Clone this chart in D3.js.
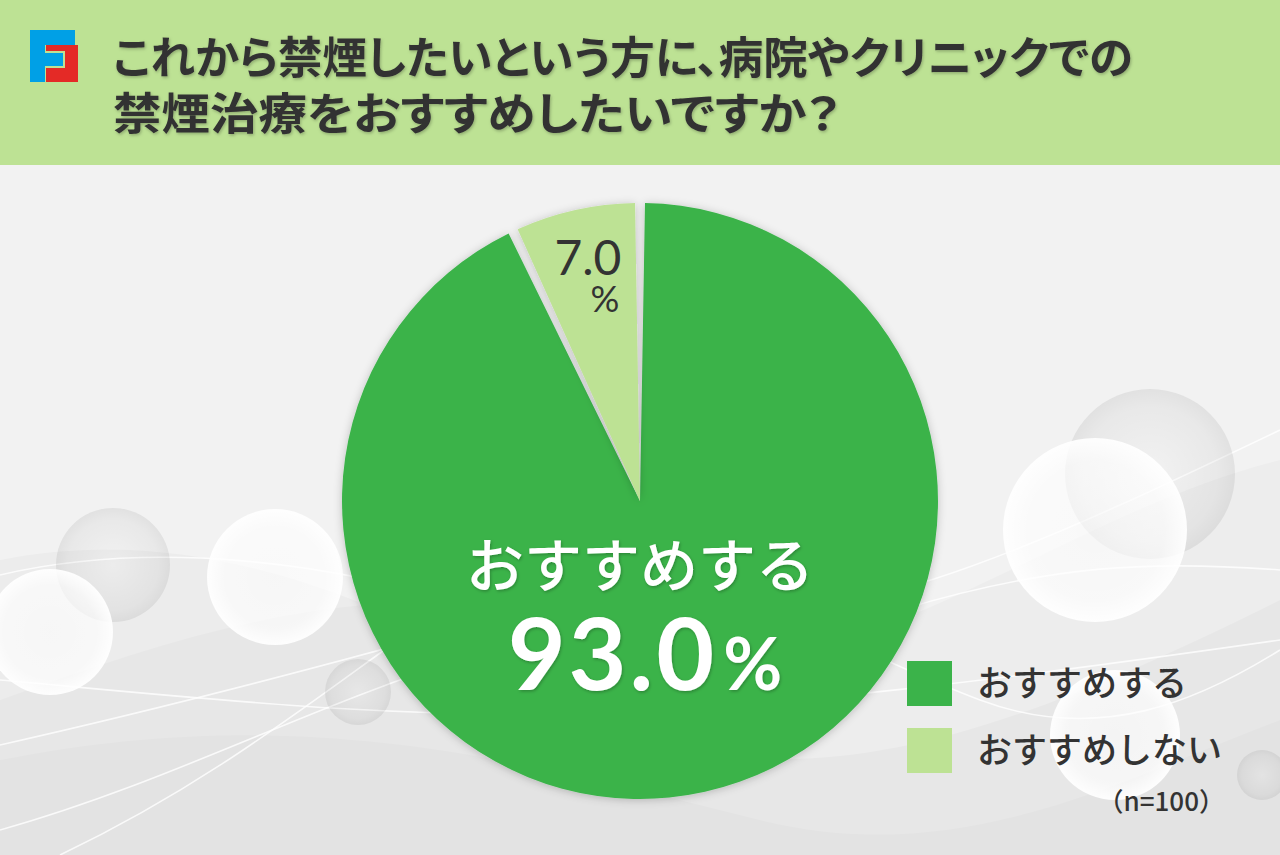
<!DOCTYPE html>
<html><head><meta charset="utf-8">
<script src="https://cdn.jsdelivr.net/npm/d3@7"></script>
<style>
html,body{margin:0;padding:0;background:#f2f2f2;}
svg{display:block;}
.jp{font-family:"Noto Sans CJK JP","Noto Sans",sans-serif;}
.palt{font-feature-settings:"palt";}
</style></head>
<body>
<svg id="chart" width="1280" height="855"></svg>
<script>
// ---- data ----
const titleLines = ["これから禁煙したいという方に、病院やクリニックでの", "禁煙治療をおすすめしたいですか？"];
const categories = ["おすすめする", "おすすめしない"];
const values = [93.0, 7.0];
const colors = ["#3bb34a", "#bde294"];
const sampleNote = "（n=100）";

const W = 1280, H = 855;
const svg = d3.select("#chart");
const defs = svg.append("defs");

// background
svg.append("rect").attr("width", W).attr("height", H).attr("fill", "#f2f2f2");

// decorative swooshes
const bg = svg.append("g");
const swooshes = [
  {d: "M0,560 C200,520 380,600 560,700 C760,810 960,760 1280,600 L1280,855 L0,855 Z", o: 0.022},
  {d: "M0,700 C220,620 420,560 640,640 C840,715 1040,520 1280,460 L1280,855 L0,855 Z", o: 0.02},
  {d: "M0,760 C300,700 520,760 760,820 C960,870 1120,780 1280,720 L1280,855 L0,855 Z", o: 0.015}
];
swooshes.forEach(s => bg.append("path").attr("d", s.d).attr("fill", "#000").attr("opacity", s.o));
const lines = [
  "M0,575 C150,540 330,560 480,610 C640,665 760,650 900,610 C1050,565 1150,560 1280,570",
  "M0,745 C200,700 420,640 560,600 C720,555 820,640 980,700 C1100,745 1200,700 1280,650",
  "M0,680 C220,700 400,720 600,712 C800,705 1000,680 1280,640",
  "M0,830 C250,760 450,620 700,620 C880,620 1050,540 1280,430",
  "M60,855 C260,760 380,640 520,560"
];
lines.forEach(d => bg.append("path").attr("d", d).attr("fill", "none").attr("stroke", "#fff").attr("stroke-width", 1.6).attr("opacity", 0.8));

// bubbles
const bub = defs.append("radialGradient").attr("id", "bub").attr("cx", "50%").attr("cy", "50%").attr("r", "50%");
bub.append("stop").attr("offset", "0%").attr("stop-color", "#fff").attr("stop-opacity", 0.55);
bub.append("stop").attr("offset", "75%").attr("stop-color", "#fff").attr("stop-opacity", 0.65);
bub.append("stop").attr("offset", "100%").attr("stop-color", "#fff").attr("stop-opacity", 0.95);
const bubD = defs.append("radialGradient").attr("id", "bubD").attr("cx", "50%").attr("cy", "50%").attr("r", "50%");
bubD.append("stop").attr("offset", "0%").attr("stop-color", "#000").attr("stop-opacity", 0.0);
bubD.append("stop").attr("offset", "80%").attr("stop-color", "#000").attr("stop-opacity", 0.04);
bubD.append("stop").attr("offset", "100%").attr("stop-color", "#000").attr("stop-opacity", 0.07);
const bubbles = [
  {x:1150,y:474,r:85,f:"bubD"},{x:113,y:565,r:57,f:"bubD"},{x:358,y:692,r:33,f:"bubD"},{x:1262,y:775,r:25,f:"bubD"},
  {x:1095,y:530,r:92,f:"bub"},{x:275,y:577,r:68,f:"bub"},{x:50,y:632,r:63,f:"bub"},{x:1115,y:735,r:65,f:"bub"}
];
bubbles.forEach(b => bg.append("circle").attr("cx", b.x).attr("cy", b.y).attr("r", b.r).attr("fill", `url(#${b.f})`));

// header
svg.append("rect").attr("x", 0).attr("y", 0).attr("width", W).attr("height", 165).attr("fill", "#bde294");
// logo
const logo = svg.append("g");
logo.append("rect").attr("x", 46).attr("y", 45).attr("width", 32).attr("height", 37).attr("fill", "#e42a26");
logo.append("path").attr("d", "M30,30 H75 V45 H45 V52 H64 V67 H45 V82 H30 Z").attr("fill", "#00a0e6");
logo.append("path").attr("d", "M45,52 H64 V67 H45").attr("fill", "none").attr("stroke", "#bde294").attr("stroke-width", 2);

// text shadow filter
const ts = defs.append("filter").attr("id", "ts").attr("x", "-10%").attr("y", "-30%").attr("width", "120%").attr("height", "160%");
ts.append("feDropShadow").attr("dx", 1).attr("dy", 1.5).attr("stdDeviation", 1.5).attr("flood-color", "#000").attr("flood-opacity", 0.25);

const title = svg.append("g").attr("class", "jp palt").attr("filter", "url(#ts)");
const titleWidths = [1020, 727];
titleLines.forEach((t, i) => {
  title.append("text").attr("x", 113).attr("y", 74 + i * 56)
    .attr("font-size", 44).attr("font-weight", 700).attr("fill", "#333")
    .attr("textLength", titleWidths[i]).attr("lengthAdjust", "spacingAndGlyphs")
    .text(t);
});

// pie
const cx = 640, cy = 501, R = 298;
const pie = d3.pie().sort(null).value(d => d);
const arcs = pie(values);
const arc = d3.arc().innerRadius(0).outerRadius(R).padAngle(10 / R).padRadius(R);
const sh = defs.append("filter").attr("id", "ps").attr("x", "-10%").attr("y", "-10%").attr("width", "120%").attr("height", "120%");
sh.append("feDropShadow").attr("dx", 0).attr("dy", 1).attr("stdDeviation", 4).attr("flood-color", "#000").attr("flood-opacity", 0.22);
const pg = svg.append("g").attr("transform", `translate(${cx},${cy})`);
pg.selectAll("path.slice").data(arcs).join("path").attr("class", "slice")
  .attr("d", arc).attr("fill", (d, i) => colors[i]).attr("filter", "url(#ps)");

// labels
const lab = svg.append("g").attr("transform", `translate(${cx},${cy})`);
// big slice label
const big = lab.append("g").attr("filter", "url(#ts)");
big.append("text").attr("class", "jp").attr("x", 0).attr("y", 86)
  .attr("text-anchor", "middle").attr("font-size", 58).attr("font-weight", 500).attr("fill", "#fff")
  .text(categories[0]);
const bt = big.append("text").attr("x", 5).attr("y", 189).attr("text-anchor", "middle")
  .attr("font-family", "Lato, 'Open Sans', sans-serif").attr("font-weight", 700).attr("fill", "#fff");
bt.append("tspan").attr("font-size", 100).attr("letter-spacing", 3).text(values[0].toFixed(1));
bt.append("tspan").attr("font-size", 72).attr("dx", 6).text("%");

// small slice label
const sArc = d3.arc().innerRadius(248).outerRadius(248);
const c = sArc.centroid(arcs[1]);
const sl = lab.append("g").attr("font-family", "Lato, 'Open Sans', sans-serif").attr("fill", "#333");
sl.append("text").attr("x", c[0] + 2).attr("y", c[1] + 16).attr("text-anchor", "middle")
  .attr("font-size", 48).attr("font-weight", 400).text(values[1].toFixed(1));
sl.append("text").attr("x", c[0] + 19).attr("y", c[1] + 53).attr("text-anchor", "middle")
  .attr("font-size", 36).attr("font-weight", 400).text("%");

// legend
const lg = svg.append("g").attr("transform", "translate(907,661)");
const items = lg.selectAll("g").data(categories).join("g").attr("transform", (d, i) => `translate(0,${i * 67})`);
items.append("rect").attr("width", 45).attr("height", 45).attr("fill", (d, i) => colors[i]);
items.append("text").attr("class", "jp").attr("x", 70).attr("y", 35).attr("font-size", 35).attr("font-weight", 500)
  .attr("fill", "#333").text(d => d);
svg.append("text").attr("class", "jp").attr("x", 1225).attr("y", 811).attr("text-anchor", "end")
  .attr("font-size", 26).attr("font-weight", 500).attr("fill", "#333").text(sampleNote);
</script>
</body></html>
